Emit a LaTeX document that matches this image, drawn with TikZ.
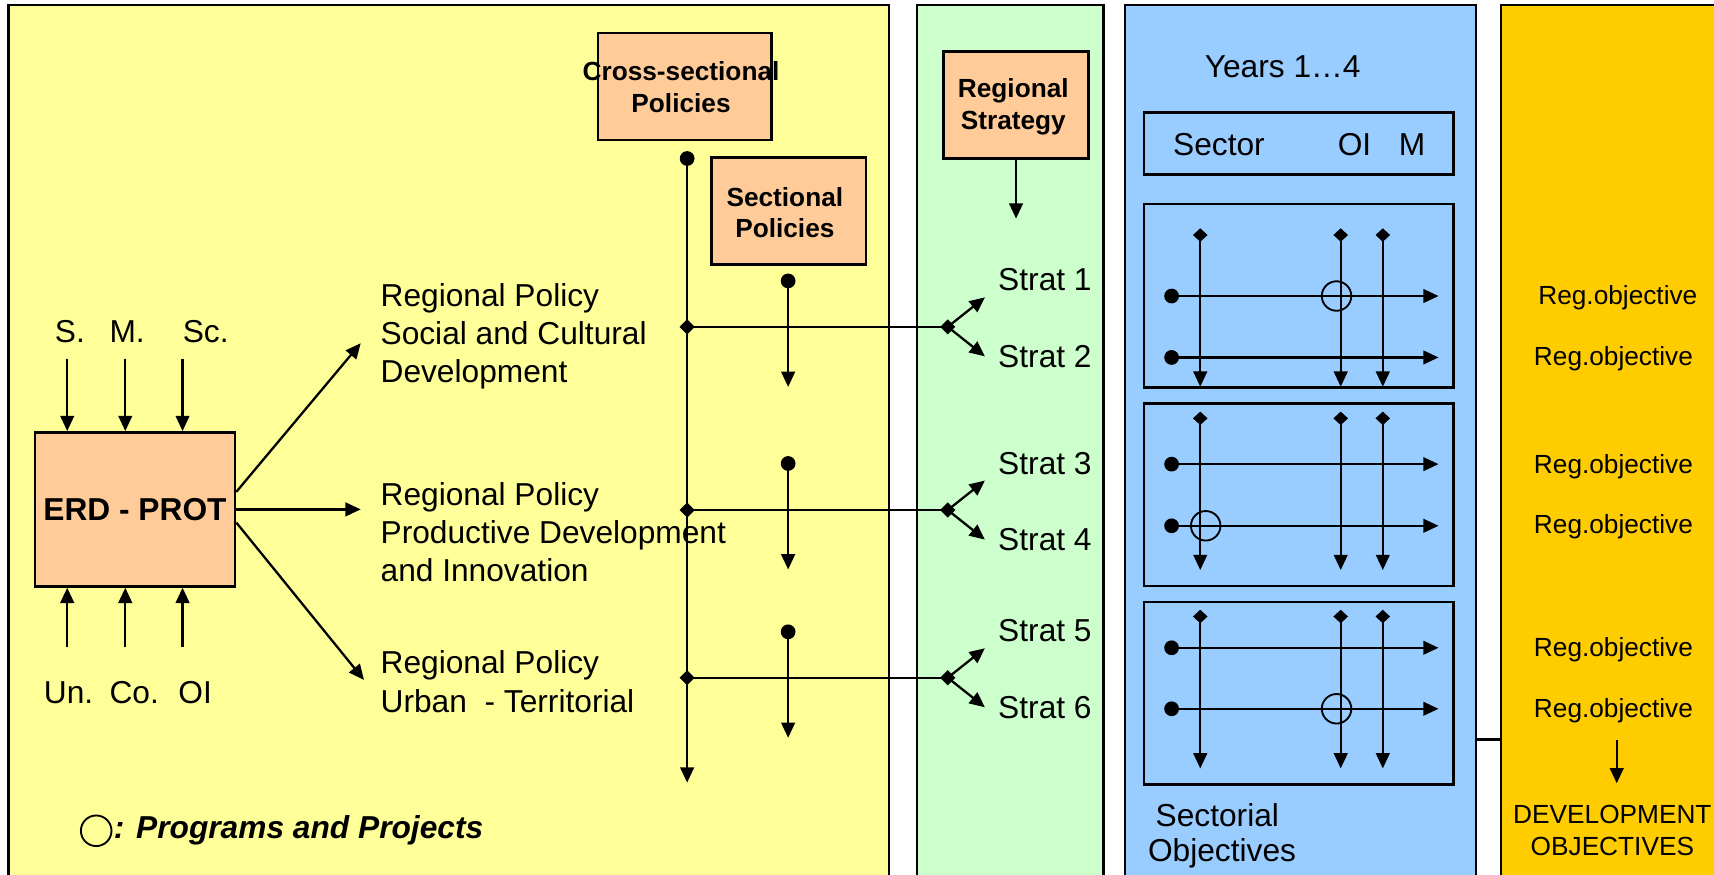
\documentclass[tikz,border=0pt]{standalone}
\usepackage{fontspec}
\setmainfont{Liberation Sans}
\usetikzlibrary{arrows.meta,shapes.geometric}
\definecolor{cyel}{HTML}{FFFF99}
\definecolor{cgrn}{HTML}{CCFFCC}
\definecolor{cblu}{HTML}{99CCFF}
\definecolor{cgold}{HTML}{FFCC00}
\definecolor{cpeach}{HTML}{FFCC99}
\begin{document}
\begin{tikzpicture}[x=1pt,y=-1pt,
  panel/.style={draw=black,line width=2.2pt},
  pbox/.style={draw=black,fill=cpeach,line width=2.3pt,inner sep=0pt},
  gbox/.style={draw=black,line width=2.3pt,inner sep=0pt},
  conn/.style={line width=2.1pt},
  arr/.style={conn,-{Triangle[length=14pt,width=12.5pt]}},
  dot/.style={circle,fill=black,inner sep=0pt,minimum size=13.5pt},
  dia/.style={diamond,fill=black,inner sep=0pt,minimum size=14pt},
  pp/.style={circle,draw=black,line width=1.7pt,inner sep=0pt,minimum size=27pt},
  big/.style={font=\fontsize{29}{35}\selectfont,inner sep=0pt},
  bigb/.style={font=\fontsize{29}{35}\selectfont\bfseries,inner sep=0pt},
  smallb/.style={font=\fontsize{24}{29}\selectfont\bfseries,inner sep=0pt,align=center},
  small/.style={font=\fontsize{24}{29}\selectfont,inner sep=0pt,align=center}]
\useasboundingbox (0,0) rectangle (1568,800);
\clip (0,0) rectangle (1568,800);
\fill[white] (0,0) rectangle (1568,800);
% panels
\draw[panel,fill=cyel] (7.9,4.6) rectangle (813,830);
\draw[panel,fill=cgrn] (839,4.6) rectangle (1009.5,830);
\draw[panel,fill=cblu] (1029,4.6) rectangle (1350,830);
\draw[panel,fill=cgold] (1373,4.6) rectangle (1620,830);
\coordinate (bluer) at (1350,676.5);
\coordinate (goldl) at (1373,676.5);
\draw[conn] (bluer) -- (goldl);

% ERD-PROT
\node[pbox,minimum width=183pt,minimum height=141pt,bigb] (erd) at (123.5,466) {ERD - PROT};
\foreach \i/\x in {1/61.5,2/114.6,3/167}{
  \coordinate (in\i) at (\x,328);
  \coordinate (bt\i) at (\x,592);
  \draw[arr] (in\i) -- (in\i |- erd.north);
  \draw[arr] (bt\i) -- (bt\i |- erd.south);
}
\node[big,anchor=base west] (ls) at (50,313) {S.};
\node[big,anchor=base west] (lm) at (100,313) {M.};
\node[big,anchor=base west] (lsc) at (167,313) {Sc.};
\node[big,anchor=base west] (lun) at (40,644) {Un.};
\node[big,anchor=base west] (lco) at (100,644) {Co.};
\node[big,anchor=base west] (loi) at (163,644) {OI};

\coordinate (t1) at (330,314);
\coordinate (t2) at (330,466);
\coordinate (t3) at (333,622);
\draw[arr] ([yshift=16pt]erd.east) -- (t1);
\draw[arr] (erd.east) -- (t2);
\draw[arr] ([yshift=-12pt]erd.east) -- (t3);

\node[big,anchor=west,align=left] (rp1) at (348,307.5) {Regional Policy\\Social and Cultural\\Development};
\node[big,anchor=west,align=left] (rp2) at (348,487) {Regional Policy\\Productive Development\\and Innovation};
\node[big,anchor=west,align=left] (rp3) at (348,623.5) {Regional Policy\\Urban\ \ - Territorial};

% policy boxes
\node[pbox,minimum width=159pt,minimum height=98pt] (cross) at (626.5,79) {};
\node[smallb] (crosst) at (623,79.5) {Cross-sectional\\Policies};
\node[pbox,minimum width=141pt,minimum height=98pt] (sect) at (721.5,193) {};
\node[smallb] (sectt) at (718,194.5) {Sectional\\Policies};
\node[pbox,minimum width=133pt,minimum height=98pt] (rs) at (929.5,96) {};
\node[smallb] (rst) at (927,97.5) {Regional\\Strategy};
\coordinate (rsend) at (929.5,200);
\draw[arr] (rs.south) -- (rsend);

% cross-sectional line
\coordinate (cend) at (628.6,716);
\draw[arr] (628.6,145) -- (cend);
\node[dot] (cd) at (628.6,145) {};

% sectional arrows
\foreach \i/\ya/\yb in {1/257/354,2/424/521,3/578/675}{
  \coordinate (se\i) at (721,\yb);
  \draw[arr] (721,\ya) -- (se\i);
  \node[dot] (sd\i) at (721,\ya) {};
}

% horizontal policy lines and forks
\foreach \i/\y in {1/299,2/466.6,3/620}{
  \node[dia] (dl\i) at (628.6,\y) {};
  \node[dia] (df\i) at (867,\y) {};
  \coordinate (fu\i) at (901,\y-27);
  \coordinate (fd\i) at (901,\y+27);
  \draw[conn] (dl\i.center) -- (df\i.center);
  \draw[arr] (df\i.center) -- (fu\i);
  \draw[arr] (df\i.center) -- (fd\i);
}
\node[big,anchor=west] (s1) at (913,256) {Strat 1};
\node[big,anchor=west] (s2) at (913,326.5) {Strat 2};
\node[big,anchor=west] (s3) at (913,424) {Strat 3};
\node[big,anchor=west] (s4) at (913,494) {Strat 4};
\node[big,anchor=west] (s5) at (913,577) {Strat 5};
\node[big,anchor=west] (s6) at (913,647) {Strat 6};

% blue panel
\node[big,anchor=west] (years) at (1102,61) {Years 1…4};
\node[gbox,minimum width=283pt,minimum height=56.5pt] (secbox) at (1188,131.3) {};
\node[big,anchor=west] (sec) at (1073,132.6) {Sector};
\node[big,anchor=west] (oi) at (1223.6,132.6) {OI};
\node[big,anchor=west] (mm) at (1279.6,132.6) {M};

\node[gbox,minimum width=283pt,minimum height=168pt] (g1) at (1188,270.6) {};
\node[gbox,minimum width=283pt,minimum height=167pt] (g2) at (1188,452.5) {};
\node[gbox,minimum width=283pt,minimum height=167pt] (g3) at (1188,634) {};

\foreach \b/\yt/\ye/\ha/\hb in {1/215/353.8/270.8/327,2/382.7/521.5/424.6/481,3/564/703/592.6/648.4}{
  \foreach \j/\x in {1/1098,2/1226.5,3/1265}{
    \node[dia,minimum width=13.5pt,minimum height=12.5pt,shape aspect=1.1] (gv\b\j) at (\x,\yt) {};
    \coordinate (ge\b\j) at (\x,\ye);
    \draw[arr] (gv\b\j.center) -- (ge\b\j);
  }
  \foreach \k/\y in {1/\ha,2/\hb}{
    \coordinate (gh\b\k) at (1316,\y);
    \draw[arr] (1071.8,\y) -- (gh\b\k);
    \node[dot] (gd\b\k) at (1071.8,\y) {};
  }
}
\node[pp] (pp1) at (1222.7,270.8) {};
\node[pp] (pp2) at (1103,481) {};
\node[pp] (pp3) at (1222.7,648.4) {};

\node[big,anchor=west] (so1) at (1057,745.7) {Sectorial};
\node[big,anchor=west] (so2) at (1050,780.7) {Objectives};

% gold panel
\node[small] (r1) at (1480,272.8) {Reg.objective};
\node[small] (r2) at (1476,327.8) {Reg.objective};
\node[small] (r3) at (1476,427) {Reg.objective};
\node[small] (r4) at (1476,482) {Reg.objective};
\node[small] (r5) at (1476,594) {Reg.objective};
\node[small] (r6) at (1476,650) {Reg.objective};
\coordinate (da) at (1479,677);
\coordinate (db) at (1479,716.6);
\draw[arr] (da) -- (db);
\node[small] (dev) at (1475,760) {DEVELOPMENT\\OBJECTIVES};

% legend
\node[pp,minimum size=28pt] (lc) at (88,760) {};
\node[inner sep=0pt,anchor=west,font=\fontsize{29}{35}\selectfont\bfseries\itshape] (lt) at (104,760) {: Programs and Projects};
\end{tikzpicture}
\end{document}
